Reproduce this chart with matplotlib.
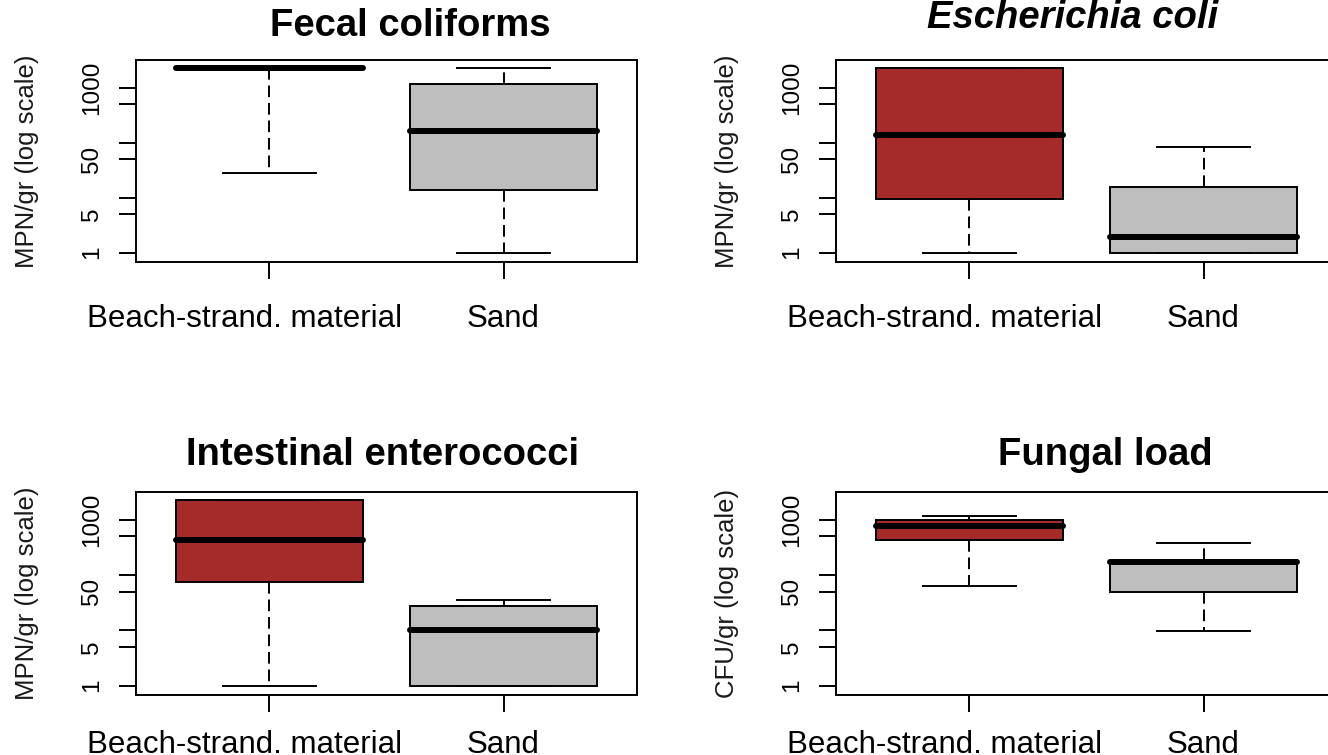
import matplotlib
matplotlib.use("Agg")
import matplotlib.pyplot as plt
from matplotlib.ticker import NullLocator
from matplotlib.transforms import ScaledTranslation

plt.rcParams["font.family"] = ["Liberation Sans", "DejaVu Sans"]

W, H = 1328, 755

groups = ["Beach-strand. material", "Sand"]
box_colors = ["#A52A2A", "#BEBEBE"]

y_ticks = [1, 5, 10, 50, 100, 500, 1000]
y_tick_labels = ["1", "5", "", "50", "", "", "1000"]

# five-number summaries: whisker low, q1, median, q3, whisker high
fecal_beach = [28, 2300, 2300, 2300, 2300]
fecal_sand = [1, 14, 160, 1165, 2300]
ecoli_beach = [1, 9.3, 136, 2300, 2300]
ecoli_sand = [1, 1, 1.95, 15.4, 82]
entero_beach = [1, 74, 430, 2265, 2265]
entero_sand = [1, 1, 10, 27, 35]
fungal_beach = [63, 438, 773, 986, 1177]
fungal_sand = [9.7, 49, 170, 184, 377]

titles = ["Fecal coliforms", "Escherichia coli", "Intestinal enterococci", "Fungal load"]
ylabels = ["MPN/gr (log scale)", "MPN/gr (log scale)", "MPN/gr (log scale)", "CFU/gr (log scale)"]


def add_panel(fig, left, top, right, bottom):
    return fig.add_axes([left / W, 1 - bottom / H, (right - left) / W, (bottom - top) / H])


def draw_panel(ax, title, ylabel, beach, sand, title_x, title_y, italic=False, xpad=18.5):
    stats = []
    for label, s in zip(groups, (beach, sand)):
        lo, q1, med, q3, hi = s
        stats.append(dict(label=label, whislo=lo, q1=q1, med=med, q3=q3, whishi=hi, fliers=[]))
    bp = ax.bxp(stats, positions=[1, 2], widths=0.8, capwidths=0.4, patch_artist=True,
                showfliers=False,
                boxprops=dict(linewidth=1.4, edgecolor="black"),
                whiskerprops=dict(linewidth=1.4, linestyle=(0, (6, 3)), color="black"),
                capprops=dict(linewidth=1.4, color="black"),
                medianprops=dict(linewidth=4.3, color="black", solid_capstyle="round"))
    for patch, c in zip(bp["boxes"], box_colors):
        patch.set_facecolor(c)

    ax.set_yscale("log")
    ax.set_ylim(0.675, 3185)
    ax.set_xlim(0.43, 2.57)
    ax.set_yticks(y_ticks)
    ax.set_yticklabels(y_tick_labels)
    ax.yaxis.set_minor_locator(NullLocator())
    ax.set_xticks([1, 2])
    ax.set_xticklabels(groups)

    for sp in ax.spines.values():
        sp.set_linewidth(1.4)
    ax.tick_params(direction="out", length=12, width=1.4)
    ax.tick_params(axis="x", labelsize=22.5, pad=xpad)
    ax.tick_params(axis="y", labelsize=17.5, pad=12, labelrotation=90)
    for lab in ax.get_yticklabels():
        lab.set_va("center")
    first = ax.get_xticklabels()[0]
    first.set_transform(first.get_transform() + ScaledTranslation(-25 / 100, 0, ax.figure.dpi_scale_trans))

    ax.text(-0.2176, 0.5, ylabel, transform=ax.transAxes, rotation=90,
            ha="center", va="center", fontsize=18.5, color="#1a1a1a")
    ax.text(title_x, title_y, title, transform=ax.transAxes, ha="center", va="baseline",
            fontsize=27.5, fontweight="bold", fontstyle="italic" if italic else "normal")


fig = plt.figure(figsize=(W / 100, H / 100), dpi=100)

ax1 = add_panel(fig, 136, 60, 637, 262)
ax2 = add_panel(fig, 836, 60, 1337, 262)
ax3 = add_panel(fig, 136, 492, 637, 695)
ax4 = add_panel(fig, 836, 492, 1337, 695)

draw_panel(ax1, titles[0], ylabels[0], fecal_beach, fecal_sand, 0.547, 1.119)
draw_panel(ax2, titles[1], ylabels[1], ecoli_beach, ecoli_sand, 0.473, 1.158, italic=True)
draw_panel(ax3, titles[2], ylabels[2], entero_beach, entero_sand, 0.492, 1.133, xpad=13)
draw_panel(ax4, titles[3], ylabels[3], fungal_beach, fungal_sand, 0.537, 1.133, xpad=13)

fig.savefig("out.png", dpi=100)
